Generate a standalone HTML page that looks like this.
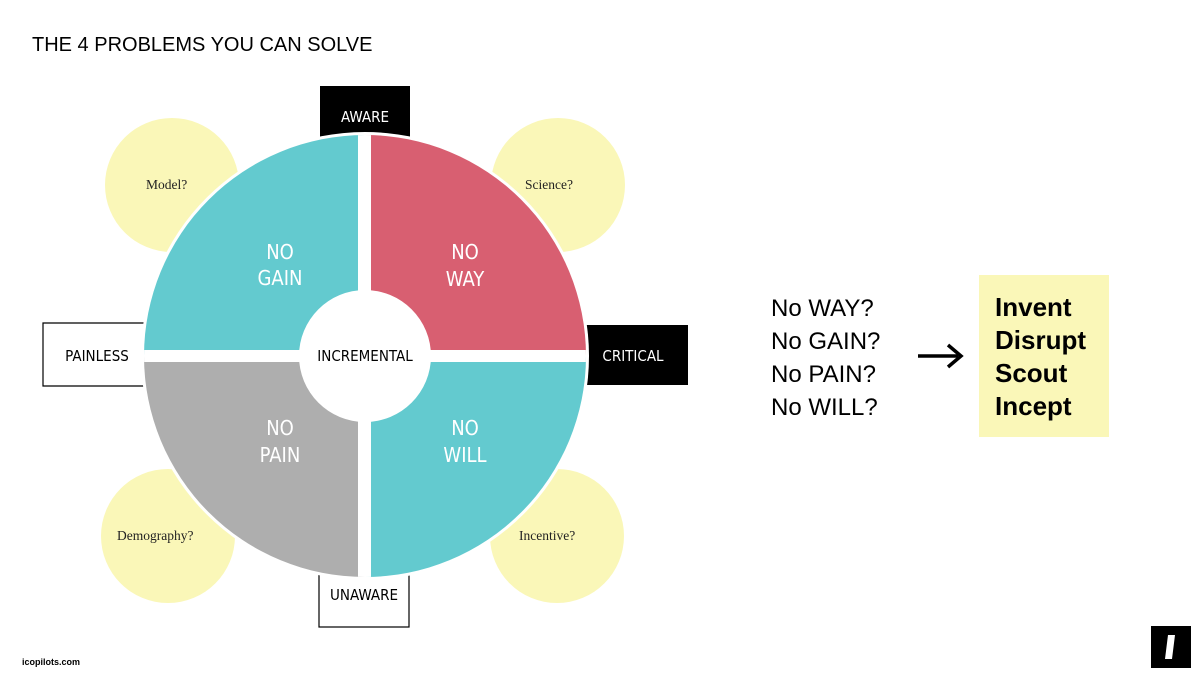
<!DOCTYPE html>
<html><head><meta charset="utf-8"><style>
body{margin:0;background:#fff;width:1200px;height:676px;overflow:hidden}
</style></head><body>
<svg width="1200" height="676" viewBox="0 0 1200 676" xmlns="http://www.w3.org/2000/svg">
<rect width="1200" height="676" fill="#fff"/>
<text x="32" y="51" font-family="Liberation Sans, sans-serif" font-size="20" fill="#000">THE 4 PROBLEMS YOU CAN SOLVE</text>
<g fill="#faf7b8">
<circle cx="172" cy="185" r="67"/><circle cx="558" cy="185" r="67"/>
<circle cx="168" cy="536" r="67"/><circle cx="557" cy="536" r="67"/>
</g>
<g font-family="Liberation Serif, serif" font-size="13.5" fill="#222">
<text x="146" y="189">Model?</text><text x="525" y="189">Science?</text>
<text x="117" y="540">Demography?</text><text x="519" y="540">Incentive?</text>
</g>
<rect x="320" y="86" width="90" height="60" fill="#000"/>
<rect x="319" y="570" width="90" height="57" fill="#fff" stroke="#000" stroke-width="1.2"/>
<path d="M145 323 H43 V386 H145" fill="#fff" stroke="#000" stroke-width="1.2"/>
<rect x="580" y="325" width="108" height="60" fill="#000"/>
<circle cx="365" cy="356" r="224" fill="#fff"/>
<defs><clipPath id="c"><circle cx="365" cy="356" r="221"/></clipPath></defs>
<g clip-path="url(#c)">
<rect x="140" y="130" width="225" height="226" fill="#63cacf"/>
<rect x="365" y="130" width="226" height="226" fill="#d85f71"/>
<rect x="140" y="356" width="225" height="226" fill="#aeaeae"/>
<rect x="365" y="356" width="226" height="226" fill="#63cacf"/>
<rect x="358" y="120" width="13" height="470" fill="#fff"/>
<rect x="140" y="350" width="455" height="12" fill="#fff"/>
</g>
<circle cx="365" cy="356" r="66" fill="#fff"/>
<g font-family="DejaVu Sans Condensed, DejaVu Sans, sans-serif" font-size="15" text-anchor="middle">
<text x="365" y="122" fill="#fff">AWARE</text>
<text x="364" y="600" fill="#000">UNAWARE</text>
<text x="97" y="361" fill="#000">PAINLESS</text>
<text x="633" y="361" fill="#fff">CRITICAL</text>
<text x="365" y="361" fill="#000">INCREMENTAL</text>
</g>
<g font-family="DejaVu Sans Condensed, DejaVu Sans, sans-serif" font-size="20" fill="#fff" text-anchor="middle">
<text x="280" y="259">NO</text><text x="280" y="285">GAIN</text>
<text x="465" y="259">NO</text><text x="465" y="286">WAY</text>
<text x="280" y="435">NO</text><text x="280" y="462">PAIN</text>
<text x="465" y="435">NO</text><text x="465" y="462">WILL</text>
</g>
<g font-family="Liberation Sans, sans-serif" font-size="24" fill="#000">
<text x="771" y="316">No WAY?</text><text x="771" y="349">No GAIN?</text>
<text x="771" y="382">No PAIN?</text><text x="771" y="415">No WILL?</text>
</g>
<line x1="918" y1="356" x2="958" y2="356" stroke="#000" stroke-width="3.5"/>
<path d="M948 345 L961 356 L948 367" fill="none" stroke="#000" stroke-width="3.5"/>
<rect x="979" y="275" width="130" height="162" fill="#faf7b8"/>
<g font-family="Liberation Sans, sans-serif" font-size="26" font-weight="bold" fill="#000">
<text x="995" y="316">Invent</text><text x="995" y="349">Disrupt</text>
<text x="995" y="382">Scout</text><text x="995" y="415">Incept</text>
</g>
<text x="22" y="665" font-family="Liberation Sans, sans-serif" font-size="9" font-weight="bold">icopilots.com</text>
<rect x="1151" y="626" width="40" height="42" fill="#000"/>
<path d="M1168 635 L1175 635 L1172 659 L1165 659 Z" fill="#fff"/>
</svg>
</body></html>
